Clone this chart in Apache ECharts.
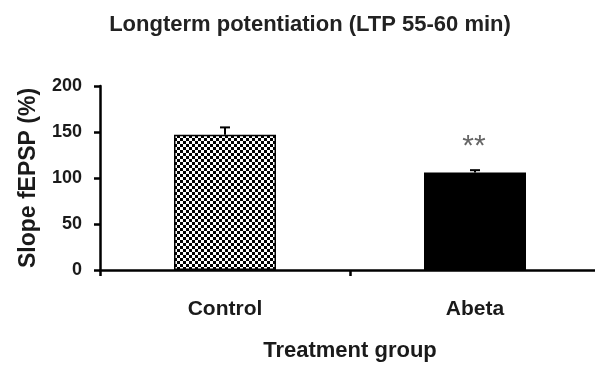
<!DOCTYPE html>
<html>
<head>
<meta charset="utf-8">
<script src="https://cdn.jsdelivr.net/npm/echarts@6/dist/echarts.min.js"></script>
<style>
  html, body { margin: 0; padding: 0; background: #fff; }
  #chart { width: 595px; height: 367px; }
</style>
</head>
<body>
<div id="chart"></div>
<script>
// Mean fEPSP slope (% of baseline) 55-60 min after LTP induction, with SEM
const groups = ['Control', 'Abeta'];
const slopeMean = [147, 106];
const slopeSem = [8, 2.5];
const significance = ['', '**'];
const yTicks = [0, 50, 100, 150, 200];

const FONT = '"Liberation Sans", Arial, sans-serif';

// Checkerboard fill used for the control bar
function checkerPattern() {
  const c = document.createElement('canvas');
  c.width = 6; c.height = 6;
  const ctx = c.getContext('2d');
  ctx.fillStyle = '#fff';
  ctx.fillRect(0, 0, 6, 6);
  ctx.fillStyle = '#000';
  ctx.fillRect(0, 0, 3, 3);
  ctx.fillRect(3, 3, 3, 3);
  return c;
}

const barFills = [
  { image: checkerPattern(), repeat: 'repeat' },
  '#000'
];

const chart = echarts.init(document.getElementById('chart'), null, { renderer: 'canvas' });

chart.setOption({
  animation: false,
  backgroundColor: '#fff',
  title: {
    text: 'Longterm potentiation (LTP 55-60 min)',
    left: 305,
    textAlign: 'center',
    top: 9,
    textStyle: { fontFamily: FONT, fontSize: 22, fontWeight: 'bold', color: '#222' }
  },
  grid: { left: 100, top: 86, width: 500, height: 184, outerBoundsMode: 'none', containLabel: false },
  xAxis: {
    type: 'category',
    data: groups,
    name: 'Treatment group',
    nameLocation: 'middle',
    nameGap: 70,
    nameTextStyle: { fontFamily: FONT, fontSize: 22, fontWeight: 'bold', color: '#1a1a1a' },
    axisLine: { lineStyle: { color: '#000', width: 2.5 } },
    axisTick: { show: true, length: 6, lineStyle: { color: '#000', width: 2.5 } },
    axisLabel: { margin: 29, fontFamily: FONT, fontSize: 21, fontWeight: 'bold', color: '#1a1a1a' }
  },
  yAxis: {
    type: 'value',
    min: yTicks[0],
    max: yTicks[yTicks.length - 1],
    interval: yTicks[1] - yTicks[0],
    name: 'Slope fEPSP (%)',
    nameLocation: 'middle',
    nameGap: 60,
    nameTextStyle: { fontFamily: FONT, fontSize: 23, fontWeight: 'bold', color: '#1a1a1a' },
    splitLine: { show: false },
    axisLine: { show: true, lineStyle: { color: '#000', width: 2.5 } },
    axisTick: { show: true, length: 6, lineStyle: { color: '#000', width: 2.5 } },
    axisLabel: { margin: 18, fontFamily: FONT, fontSize: 18, fontWeight: 'bold', color: '#1a1a1a' }
  },
  series: [
    {
      type: 'bar',
      barWidth: 102,
      data: slopeMean.map((v, i) => ({
        value: v,
        itemStyle: { color: barFills[i], borderColor: '#000', borderWidth: 1.5 }
      })),
      z: 2
    },
    {
      // SEM error bars (upper half) with significance markers
      type: 'custom',
      z: 3,
      data: slopeMean.map((v, i) => [i, v, slopeSem[i]]),
      renderItem: function (params, api) {
        const i = api.value(0);
        const base = api.coord([i, api.value(1)]);
        const top = api.coord([i, api.value(1) + api.value(2)]);
        const half = 5;
        const children = [
          { type: 'line', shape: { x1: base[0], y1: base[1], x2: top[0], y2: top[1] },
            style: { stroke: '#000', lineWidth: 2 } },
          { type: 'line', shape: { x1: top[0] - half, y1: top[1], x2: top[0] + half, y2: top[1] },
            style: { stroke: '#000', lineWidth: 2 } }
        ];
        if (significance[i]) {
          children.push({
            type: 'text',
            style: {
              text: significance[i],
              x: top[0] - 1, y: top[1] - 23,
              textAlign: 'center', textVerticalAlign: 'middle',
              font: '30px ' + FONT, fill: '#666'
            }
          });
        }
        return { type: 'group', children: children };
      }
    }
  ]
});
</script>
</body>
</html>
